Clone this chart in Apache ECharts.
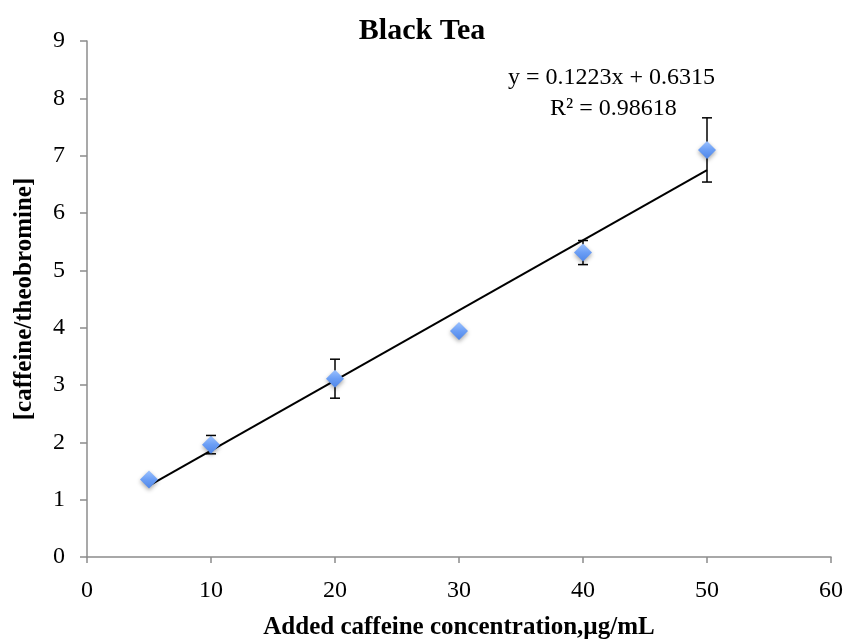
<!DOCTYPE html>
<html>
<head>
<meta charset="utf-8">
<script src="https://cdn.jsdelivr.net/npm/echarts@6/dist/echarts.min.js"></script>
<style>
  html, body { margin: 0; padding: 0; background: #fff; }
  #chart { width: 844px; height: 639px; }
</style>
</head>
<body>
<div id="chart"></div>
<script>
// Added caffeine (µg/mL) and measured caffeine/theobromine ratio
const concentrations = [5, 10, 20, 30, 40, 50];
const ratios = [1.35, 1.96, 3.11, 3.94, 5.31, 7.10];
const errors = [0.03, 0.16, 0.34, 0.03, 0.21, 0.56];

// Linear fit reported on the chart
const slope = 0.1223;
const intercept = 0.6315;
const rSquared = 0.98618;

const xTicks = [0, 10, 20, 30, 40, 50, 60];
const yTicks = [0, 1, 2, 3, 4, 5, 6, 7, 8, 9];

const FONT = '"Liberation Serif", "Times New Roman", serif';

const points = concentrations.map((x, i) => [x, ratios[i]]);
const errData = concentrations.map((x, i) => [x, ratios[i] - errors[i], ratios[i] + errors[i]]);
const xFirst = concentrations[0];
const xLast = concentrations[concentrations.length - 1];
const fitLine = [[xFirst, slope * xFirst + intercept], [xLast, slope * xLast + intercept]];

const chart = echarts.init(document.getElementById('chart'), null, { renderer: 'canvas' });

const axisLine = { show: true, lineStyle: { color: '#8c8c8c', width: 1.5 } };

chart.setOption({
  animation: false,
  backgroundColor: '#fff',
  title: {
    text: 'Black Tea',
    left: 'center',
    top: 11,
    textStyle: { fontFamily: FONT, fontSize: 30, fontWeight: 'bold', color: '#000' }
  },
  grid: { left: 87, right: 13, top: 41, bottom: 82, containLabel: false, outerBoundsMode: 'none' },
  xAxis: {
    type: 'value',
    min: xTicks[0],
    max: xTicks[xTicks.length - 1],
    interval: 10,
    name: 'Added caffeine concentration,µg/mL',
    nameLocation: 'middle',
    nameGap: 58,
    nameTextStyle: { fontFamily: FONT, fontSize: 25, fontWeight: 'bold', color: '#000' },
    axisLine: axisLine,
    axisTick: { show: true, length: 6, lineStyle: { color: '#8c8c8c', width: 1.5 } },
    axisLabel: { fontFamily: FONT, fontSize: 24, color: '#000', margin: 22 },
    splitLine: { show: false }
  },
  yAxis: {
    type: 'value',
    min: yTicks[0],
    max: yTicks[yTicks.length - 1],
    interval: 1,
    name: '[caffeine/theobromine]',
    nameLocation: 'middle',
    nameGap: 50,
    nameRotate: 90,
    nameTextStyle: { fontFamily: FONT, fontSize: 25, fontWeight: 'bold', color: '#000' },
    axisLine: axisLine,
    axisTick: { show: true, length: 7, lineStyle: { color: '#8c8c8c', width: 1.5 } },
    axisLabel: { fontFamily: FONT, fontSize: 24, color: '#000', margin: 22 },
    splitLine: { show: false }
  },
  series: [
    {
      name: 'fit',
      type: 'line',
      data: fitLine,
      symbol: 'none',
      lineStyle: { color: '#000', width: 2 },
      z: 2
    },
    {
      name: 'error',
      type: 'custom',
      data: errData,
      z: 3,
      renderItem: function (params, api) {
        const x = api.value(0);
        const lo = api.coord([x, api.value(1)]);
        const hi = api.coord([x, api.value(2)]);
        const cap = 5;
        const style = { stroke: '#000', lineWidth: 1.5 };
        return {
          type: 'group',
          children: [
            { type: 'line', shape: { x1: lo[0], y1: lo[1], x2: hi[0], y2: hi[1] }, style: style },
            { type: 'line', shape: { x1: hi[0] - cap, y1: hi[1], x2: hi[0] + cap, y2: hi[1] }, style: style },
            { type: 'line', shape: { x1: lo[0] - cap, y1: lo[1], x2: lo[0] + cap, y2: lo[1] }, style: style }
          ]
        };
      }
    },
    {
      name: 'ratio',
      type: 'scatter',
      data: points,
      symbol: 'diamond',
      symbolSize: [18, 18],
      z: 4,
      itemStyle: {
        opacity: 1,
        color: new echarts.graphic.LinearGradient(0, 0, 0, 1, [
          { offset: 0, color: '#9cc2ff' },
          { offset: 0.5, color: '#6b9ef5' },
          { offset: 1, color: '#4f86e8' }
        ]),
        shadowColor: 'rgba(0,0,0,0.35)',
        shadowBlur: 4,
        shadowOffsetY: 2
      }
    }
  ],
  graphic: [
    {
      type: 'text',
      left: 508,
      top: 66,
      style: {
        text: 'y = ' + slope + 'x + ' + intercept,
        fontFamily: FONT,
        fontSize: 24,
        fill: '#000'
      }
    },
    {
      type: 'text',
      left: 550,
      top: 97,
      style: {
        text: 'R² = ' + rSquared,
        fontFamily: FONT,
        fontSize: 24,
        fill: '#000'
      }
    }
  ]
});
</script>
</body>
</html>
